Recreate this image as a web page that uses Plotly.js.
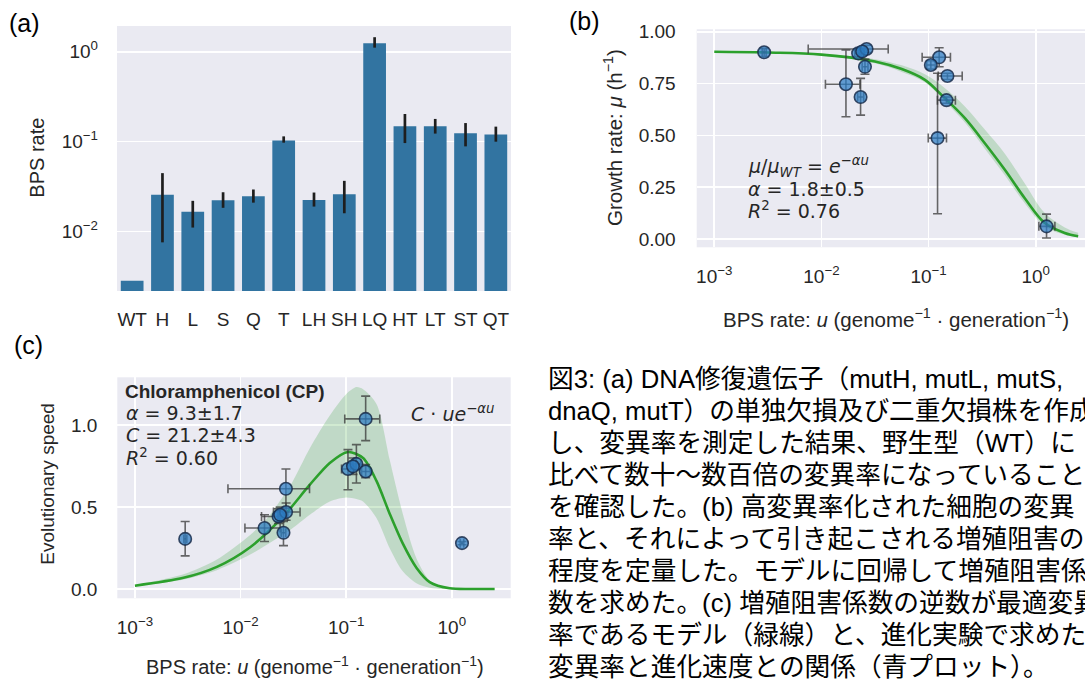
<!DOCTYPE html>
<html><head><meta charset="utf-8">
<script src="https://cdn.plot.ly/plotly-3.0.1.min.js"></script>
<style>
html,body{margin:0;padding:0;width:1085px;height:679px;overflow:hidden;background:#fff;}
#chart{position:absolute;left:0;top:0;width:1085px;height:679px;}
#caption{position:absolute;left:548px;top:363px;width:537px;overflow:hidden;font-family:"Liberation Sans","Noto Sans CJK JP",sans-serif;font-size:25.7px;line-height:32px;color:#000;white-space:nowrap;}
</style></head>
<body>
<div id="chart"></div>
<div id="caption"></div>
<script>
// ---------- Panel (a) data ----------
var strains = ['WT','H','L','S','Q','T','LH','SH','LQ','HT','LT','ST','QT'];
var bpsRate = [0.00284,0.0257,0.0166,0.0223,0.0248,0.1028,0.0225,0.0260,1.24,0.148,0.148,0.124,0.120];
var bpsLow  = [null,0.0076,0.0111,0.0184,0.0210,0.0975,0.0190,0.0160,1.11,0.0965,0.123,0.0887,0.100];
var bpsHigh = [null,0.0447,0.0220,0.0274,0.0294,0.1146,0.0272,0.0367,1.45,0.203,0.179,0.161,0.147];

// ---------- Panel (b) data ----------
var bU     = [0.00292,0.01694,0.0232,0.0255,0.0220,0.0264,0.0240,0.1256,0.105,0.1213,0.150,0.147,1.262];
var bULow  = [0.00280,0.0109,0.0218,0.0240,0.0205,0.00753,0.0228,0.0871,0.0960,0.0993,0.123,0.121,1.07];
var bUHigh = [0.00305,0.0229,0.0248,0.0272,0.0236,0.0420,0.0253,0.160,0.116,0.147,0.206,0.178,1.51];
var bMu     = [0.901,0.747,0.685,0.831,0.896,0.917,0.905,0.877,0.840,0.487,0.787,0.670,0.061];
var bMuLow  = [0.880,0.590,0.598,0.795,0.880,0.900,0.890,0.831,0.820,0.122,0.770,0.655,0.005];
var bMuHigh = [0.920,0.912,0.775,0.868,0.910,0.935,0.920,0.923,0.860,0.800,0.800,0.685,0.120];
var bCurveLogU = [-3,-2.5,-2,-1.5,-1.25,-1.034,-0.847,-0.661,-0.475,-0.288,-0.102,0.085,0.271,0.396];
var bCurveMu   = [0.904,0.900,0.890,0.857,0.820,0.768,0.679,0.583,0.462,0.334,0.197,0.077,0.029,0.013];
var bBandUpper = [0.904,0.902,0.894,0.868,0.838,0.795,0.728,0.640,0.528,0.412,0.268,0.125,0.056,0.030];
var bBandLower = [0.904,0.898,0.886,0.848,0.806,0.756,0.664,0.562,0.436,0.308,0.172,0.060,0.020,0.008];

// ---------- Panel (c) data ----------
var cU     = [0.00299,0.0269,0.01686,0.0255,0.0229,0.0270,0.0237,0.153,0.104,0.125,0.153,0.116,1.25];
var cULow  = [0.0029,0.0076,0.0110,0.0243,0.0158,0.0205,0.0225,0.097,0.0904,0.115,0.140,0.110,1.20];
var cUHigh = [0.0031,0.045,0.0237,0.0268,0.0280,0.0366,0.0250,0.208,0.118,0.137,0.170,0.123,1.30];
var cSpeed     = [0.306,0.612,0.372,0.343,0.443,0.470,0.453,1.039,0.733,0.764,0.718,0.749,0.280];
var cSpeedLow  = [0.202,0.494,0.290,0.265,0.400,0.420,0.410,0.906,0.606,0.647,0.680,0.700,0.270];
var cSpeedHigh = [0.412,0.733,0.453,0.412,0.490,0.525,0.500,1.178,0.851,0.882,0.760,0.800,0.290];
var cCurveLogU = [-3,-2.54,-2.224,-1.909,-1.593,-1.344,-1.155,-0.982,-0.84,-0.713,-0.588,-0.462,-0.335,-0.209,-0.02,0.2,0.406];
var cCurveV    = [0.020,0.068,0.135,0.255,0.445,0.637,0.770,0.837,0.800,0.660,0.460,0.275,0.130,0.042,0.004,0.0,0.0];
var cBandLogU  = [-3,-2.54,-2.224,-1.909,-1.751,-1.53,-1.344,-1.155,-1.0,-0.903,-0.84,-0.713,-0.588,-0.462,-0.335,-0.209,-0.083,0.1,0.406];
var cBandUpper = [0.024,0.090,0.180,0.330,0.430,0.630,0.860,1.060,1.190,1.233,1.220,1.130,0.790,0.455,0.188,0.050,0.004,0.0,0.0];
var cBandLower = [0.017,0.058,0.115,0.210,0.270,0.360,0.453,0.535,0.559,0.550,0.535,0.433,0.249,0.106,0.035,0.008,0.0,0.0,0.0];

// ---------- Tick labels ----------
var aTickVals = [0.01,0.1,1];
var aTickText = ['10<sup>−2</sup>','10<sup>−1</sup>','10<sup>0</sup>'];
var uTickVals = [0.001,0.01,0.1,1];
var uTickText = ['10<sup>−3</sup>','10<sup>−2</sup>','10<sup>−1</sup>','10<sup>0</sup>'];

var captionLines = [
"図3: (a) DNA修復遺伝子（mutH, mutL, mutS,",
"dnaQ, mutT）の単独欠損及び二重欠損株を作成",
"し、変異率を測定した結果、野生型（WT）に",
"比べて数十～数百倍の変異率になっていること",
"を確認した。(b) 高変異率化された細胞の変異",
"率と、それによって引き起こされる増殖阻害の",
"程度を定量した。モデルに回帰して増殖阻害係",
"数を求めた。(c) 増殖阻害係数の逆数が最適変異",
"率であるモデル（緑線）と、進化実験で求めた",
"変異率と進化速度との関係（青プロット）。"
];

// ---------- helpers ----------
var W = 1085, H = 679;
function px(v){ return v / W; }
function py(v){ return 1 - v / H; }
function pow10(a){ return a.map(function(v){ return Math.pow(10, v); }); }
function diff(a, b){ return a.map(function(v, i){ return (v == null || b[i] == null) ? NaN : v - b[i]; }); }

var TXT = '#262626';
var SANS = 'Liberation Sans, Arial, sans-serif';
var MATH = 'DejaVu Sans, sans-serif';
var GREEN = '#2ca02c';
var BAND = 'rgba(44,160,44,0.22)';
var ERRC = 'rgba(55,55,55,0.75)';

function pointsTrace(xa, ya, x, xl, xh, y, yl, yh){
  return {
    type:'scatter', mode:'markers', xaxis:xa, yaxis:ya, x:x, y:y, hoverinfo:'x+y',
    marker:{size:12.5, color:'rgba(45,125,195,0.72)', line:{color:'rgba(25,45,75,0.85)', width:1.6}},
    error_x:{type:'data', symmetric:false, array:diff(xh, x), arrayminus:diff(x, xl), color:ERRC, thickness:1.6, width:4.5},
    error_y:{type:'data', symmetric:false, array:diff(yh, y), arrayminus:diff(y, yl), color:ERRC, thickness:1.6, width:4.5}
  };
}

var traces = [
  // (a) bars
  {type:'bar', x:strains, y:bpsRate, xaxis:'x', yaxis:'y', marker:{color:'#3274a1'},
   error_y:{type:'data', symmetric:false, array:diff(bpsHigh, bpsRate), arrayminus:diff(bpsRate, bpsLow),
            color:'#1e1e1e', thickness:2.7, width:0}},
  // (b) band + curve + points
  {type:'scatter', mode:'lines', xaxis:'x2', yaxis:'y2', x:pow10(bCurveLogU), y:bBandLower,
   line:{width:0, shape:'spline'}, hoverinfo:'skip'},
  {type:'scatter', mode:'lines', xaxis:'x2', yaxis:'y2', x:pow10(bCurveLogU), y:bBandUpper,
   line:{width:0, shape:'spline'}, fill:'tonexty', fillcolor:BAND, hoverinfo:'skip'},
  {type:'scatter', mode:'lines', xaxis:'x2', yaxis:'y2', x:pow10(bCurveLogU), y:bCurveMu,
   line:{color:GREEN, width:2.6, shape:'spline'}},
  pointsTrace('x2','y2', bU, bULow, bUHigh, bMu, bMuLow, bMuHigh),
  // (c) band + curve + points
  {type:'scatter', mode:'lines', xaxis:'x3', yaxis:'y3', x:pow10(cBandLogU), y:cBandLower,
   line:{width:0, shape:'spline', smoothing:0.8}, hoverinfo:'skip'},
  {type:'scatter', mode:'lines', xaxis:'x3', yaxis:'y3', x:pow10(cBandLogU), y:cBandUpper,
   line:{width:0, shape:'spline', smoothing:0.8}, fill:'tonexty', fillcolor:BAND, hoverinfo:'skip'},
  {type:'scatter', mode:'lines', xaxis:'x3', yaxis:'y3', x:pow10(cCurveLogU), y:cCurveV,
   line:{color:GREEN, width:2.6, shape:'spline', smoothing:0.8}},
  pointsTrace('x3','y3', cU, cULow, cUHigh, cSpeed, cSpeedLow, cSpeedHigh)
];

var tickFont = {family:SANS, size:19, color:TXT};
function baseAxis(extra){
  var o = {showline:false, zeroline:false, ticks:'', gridcolor:'#ffffff', gridwidth:1.6,
           tickfont:tickFont, fixedrange:true, automargin:false};
  for (var k in extra) o[k] = extra[k];
  return o;
}

var layout = {
  width:W, height:H, margin:{l:0,r:0,t:0,b:0}, showlegend:false,
  paper_bgcolor:'#ffffff', plot_bgcolor:'#eaeaf2', bargap:0.25,
  font:{family:SANS, color:TXT},
  xaxis: baseAxis({domain:[px(117), px(511)], anchor:'y', type:'category', range:[-0.5,12.5], showgrid:false, ticklabelstandoff:15}),
  yaxis: baseAxis({domain:[py(291), py(26)], anchor:'x', type:'log', range:[-2.66,0.286],
                   tickmode:'array', tickvals:aTickVals, ticktext:aTickText, ticklabelstandoff:18}),
  xaxis2: baseAxis({domain:[px(696.7), 1], anchor:'y2', type:'log', range:[-3.164,0.46],
                   tickmode:'array', tickvals:uTickVals, ticktext:uTickText, ticklabelstandoff:16}),
  yaxis2: baseAxis({domain:[py(247.3), py(29.3)], anchor:'x2', range:[-0.04,1.012],
                   tickmode:'array', tickvals:[0,0.25,0.5,0.75,1], tickformat:'.2f', ticklabelstandoff:20}),
  xaxis3: baseAxis({domain:[px(117.3), px(510.7)], anchor:'y3', type:'log', range:[-3.167,0.558],
                   tickmode:'array', tickvals:uTickVals, ticktext:uTickText, ticklabelstandoff:16}),
  yaxis3: baseAxis({domain:[py(598.3), py(377.3)], anchor:'x3', range:[-0.057,1.293],
                   tickmode:'array', tickvals:[0,0.5,1], tickformat:'.1f', ticklabelstandoff:19}),
  annotations: []
};

function ann(text, x, y, opts){
  var a = {text:text, xref:'paper', yref:'paper', x:px(x), y:py(y), showarrow:false,
           xanchor:'left', yanchor:'middle', font:{family:SANS, size:20, color:TXT}};
  for (var k in (opts||{})) a[k] = opts[k];
  return a;
}
var L = layout.annotations;
L.push(ann('(a)', 7, 23, {font:{family:SANS, size:25, color:'#000'}}));
L.push(ann('(b)', 567, 21, {font:{family:SANS, size:25, color:'#000'}}));
L.push(ann('(c)', 12, 345, {font:{family:SANS, size:25, color:'#000'}}));
L.push(ann('BPS rate', 36.7, 158, {xanchor:'center', textangle:-90}));
L.push(ann('Growth rate: <i>μ</i> (h<sup>−1</sup>)', 613, 138, {xanchor:'center', textangle:-90, font:{family:SANS, size:20.5, color:TXT}}));
L.push(ann('BPS rate: <i>u</i> (genome<sup>−1</sup> · generation<sup>−1</sup>)', 896, 318, {xanchor:'center', font:{family:SANS, size:20.5, color:TXT}}));
L.push(ann('Evolutionary speed', 46.7, 484, {xanchor:'center', textangle:-90, font:{family:SANS, size:19, color:TXT}}));
L.push(ann('BPS rate: <i>u</i> (genome<sup>−1</sup> · generation<sup>−1</sup>)', 315, 665, {xanchor:'center'}));
var mf = {family:MATH, size:19, color:TXT};
L.push(ann('<i>μ</i>/<i>μ</i><sub><i>WT</i></sub> = <i>e</i><sup>−<i>αu</i></sup>', 746, 166, {font:mf}));
L.push(ann('<i>α</i> = 1.8±0.5', 746, 188.5, {font:mf}));
L.push(ann('<i>R</i><sup>2</sup> = 0.76', 746, 210, {font:mf}));
L.push(ann('<b>Chloramphenicol (CP)</b>', 123, 392, {font:{family:SANS, size:19, color:TXT}}));
L.push(ann('<i>α</i> = 9.3±1.7', 124, 413.5, {font:mf}));
L.push(ann('<i>C</i> = 21.2±4.3', 124, 435, {font:mf}));
L.push(ann('<i>R</i><sup>2</sup> = 0.60', 124, 457, {font:mf}));
L.push(ann('<i>C</i> · <i>ue</i><sup>−<i>αu</i></sup>', 497, 413, {font:mf, xanchor:'right'}));

Plotly.newPlot('chart', traces, layout, {staticPlot:true, displayModeBar:false});

document.getElementById('caption').innerHTML = captionLines.map(function(s){
  return s.replace(/&/g,'&amp;').replace(/</g,'&lt;');
}).join('<br>');
</script>
</body></html>
